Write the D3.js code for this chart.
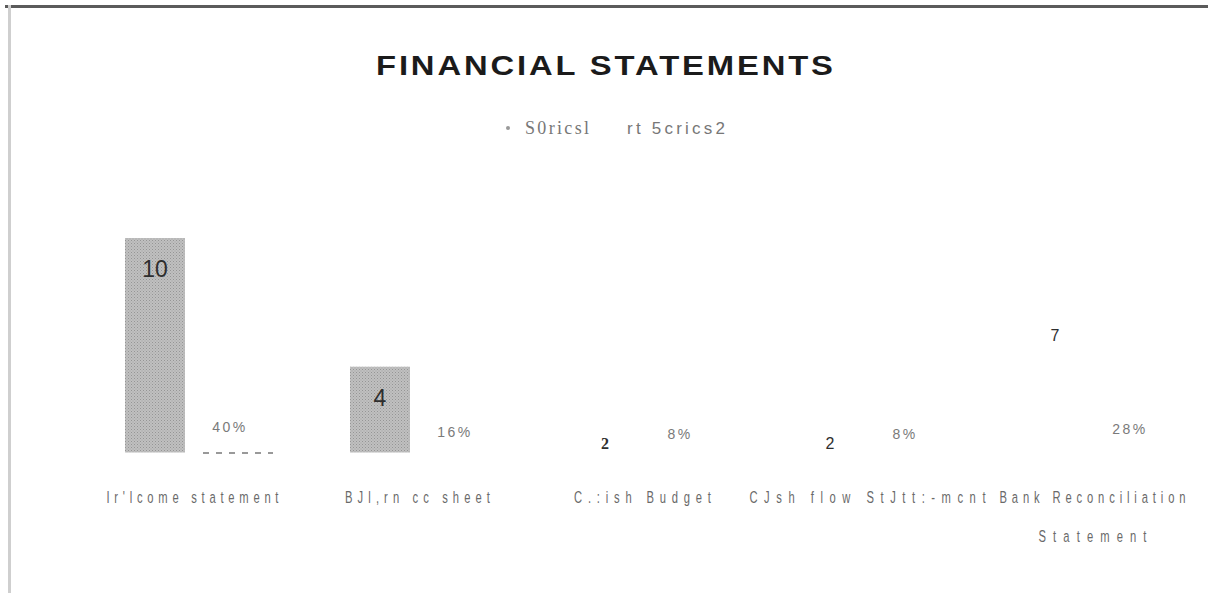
<!DOCTYPE html>
<html>
<head>
<meta charset="utf-8">
<script src="https://cdn.jsdelivr.net/npm/d3@7"></script>
<style>
  html, body { margin: 0; padding: 0; background: #fff; }
  svg { display: block; }
</style>
</head>
<body>
<svg id="chart" width="1208" height="593"></svg>
<script>
// ---- data ----
const categories = ["Ir'lcome statement", "BJl,rn cc sheet", "C.:ish Budget", "CJsh flow StJtt:-mcnt", "Bank Reconciliation Statement"];
const categoryLines = [["Ir'lcome statement"], ["BJl,rn cc sheet"], ["C.:ish Budget"], ["CJsh flow StJtt:-mcnt"], ["Bank Reconciliation", "Statement"]];
const seriesNames = ["S0ricsl", "rt 5crics2"];
const series1 = [10, 4, 2, 2, 7];
const series2 = [0.40, 0.16, 0.08, 0.08, 0.28];
const title = "FINANCIAL STATEMENTS";

// ---- styling (kept apart from the values) ----
const s1Opacity = [1, 1, 0, 0, 0];                // smaller bars print without fill
const s1LabelSize = [23, 23, 16, 16, 16];
const s1LabelFont = ["Liberation Sans", "Liberation Sans", "Liberation Serif", "Liberation Sans", "Liberation Sans"];
const s1LabelWeight = ["normal", "normal", "bold", "normal", "normal"];
const s2Edge = [true, false, false, false, false];
const catWidths = [[172], [145], [137], [236], [186, 108]];
const narrow = 0.68;                               // horizontal squeeze of axis labels

const svg = d3.select("#chart");

// page frame
svg.append("line").attr("x1", 5).attr("x2", 1208).attr("y1", 6.5).attr("y2", 6.5)
  .attr("stroke", "#5b5b5b").attr("stroke-width", 3);
svg.append("line").attr("x1", 9.5).attr("x2", 9.5).attr("y1", 5).attr("y2", 593)
  .attr("stroke", "#cfcfcf").attr("stroke-width", 3);

// stippled grey fill for the bars
const defs = svg.append("defs");
const pat = defs.append("pattern").attr("id", "stipple")
  .attr("width", 3).attr("height", 3).attr("patternUnits", "userSpaceOnUse");
pat.append("rect").attr("width", 3).attr("height", 3).attr("fill", "#c0c0c0");
pat.append("rect").attr("x", 0).attr("y", 0).attr("width", 1).attr("height", 1).attr("fill", "#959595");
pat.append("rect").attr("x", 1.5).attr("y", 1.5).attr("width", 1).attr("height", 1).attr("fill", "#a3a3a3");

// title, slightly widened heavy sans
const titleW = 457, titleScale = 1.15;
svg.append("text")
  .attr("transform", `translate(376,75) scale(${titleScale},1)`)
  .attr("font-family", "Liberation Sans, Arial, sans-serif").attr("font-weight", "bold")
  .attr("font-size", 28.5).attr("fill", "#1b1b1b")
  .attr("textLength", titleW / titleScale).attr("lengthAdjust", "spacing")
  .text(title);

// legend
svg.append("circle").attr("cx", 508).attr("cy", 128).attr("r", 2).attr("fill", "#999");
svg.append("text").attr("x", 525).attr("y", 134)
  .attr("font-family", "Liberation Serif, serif").attr("font-size", 18).attr("fill", "#777")
  .attr("textLength", 64).attr("lengthAdjust", "spacing").text(seriesNames[0]);
svg.append("text").attr("x", 627).attr("y", 134)
  .attr("font-family", "Liberation Sans, sans-serif").attr("font-size", 17).attr("fill", "#777")
  .attr("textLength", 98).attr("lengthAdjust", "spacing").text(seriesNames[1]);

// scales
const x0 = d3.scaleBand().domain(categories).range([80, 1205]);
const x1 = d3.scaleBand().domain(["s1", "s2"]).range([45, 180]).paddingInner(0.2);
const y = d3.scaleLinear().domain([0, 10]).range([452.5, 238]);

const groups = svg.append("g").selectAll("g").data(categories).join("g")
  .attr("transform", d => `translate(${x0(d)},0)`);

// series 1 bars
groups.append("rect")
  .attr("x", x1("s1")).attr("width", x1.bandwidth())
  .attr("y", (d, i) => y(series1[i]))
  .attr("height", (d, i) => y(0) - y(series1[i]))
  .attr("fill", "url(#stipple)")
  .attr("fill-opacity", (d, i) => s1Opacity[i]);

// series 1 labels
groups.append("text")
  .attr("x", x1("s1") + x1.bandwidth() / 2)
  .attr("y", (d, i) => y(series1[i]) + 39)
  .attr("text-anchor", "middle")
  .attr("font-family", (d, i) => s1LabelFont[i])
  .attr("font-weight", (d, i) => s1LabelWeight[i])
  .attr("font-size", (d, i) => s1LabelSize[i])
  .attr("fill", "#2e2e2e")
  .text((d, i) => series1[i]);

// series 2 bars (printed without fill)
groups.append("rect")
  .attr("x", x1("s2")).attr("width", x1.bandwidth())
  .attr("y", (d, i) => y(series2[i]))
  .attr("height", (d, i) => y(0) - y(series2[i]))
  .attr("fill", "none");
groups.filter((d, i) => s2Edge[i]).append("line")
  .attr("x1", x1("s2") + 3).attr("x2", x1("s2") + x1.bandwidth() + 13)
  .attr("y1", y(0) + 0.5).attr("y2", y(0) + 0.5)
  .attr("stroke", "#999").attr("stroke-width", 2).attr("stroke-dasharray", "6,7");

// series 2 labels
const pct = d3.format(".0%");
groups.append("text")
  .attr("x", x1("s2") + x1.bandwidth() / 2)
  .attr("y", (d, i) => y(series2[i]) - 12)
  .attr("text-anchor", "middle")
  .attr("font-family", "Liberation Sans, sans-serif")
  .attr("font-size", 14)
  .attr("letter-spacing", 2.5)
  .attr("fill", "#7a7a7a")
  .text((d, i) => pct(series2[i]));

// category labels, narrow glyphs spread out
groups.each(function (d, i) {
  const g = d3.select(this);
  categoryLines[i].forEach((line, j) => {
    const w = catWidths[i][j];
    g.append("text")
      .attr("transform", `translate(${x0.bandwidth() / 2 - w / 2},${503 + j * 39}) scale(${narrow},1)`)
      .attr("font-family", "Liberation Sans, sans-serif")
      .attr("font-size", 16.5)
      .attr("fill", "#6a6a6a")
      .attr("textLength", w / narrow).attr("lengthAdjust", "spacing")
      .text(line);
  });
});
</script>
</body>
</html>
